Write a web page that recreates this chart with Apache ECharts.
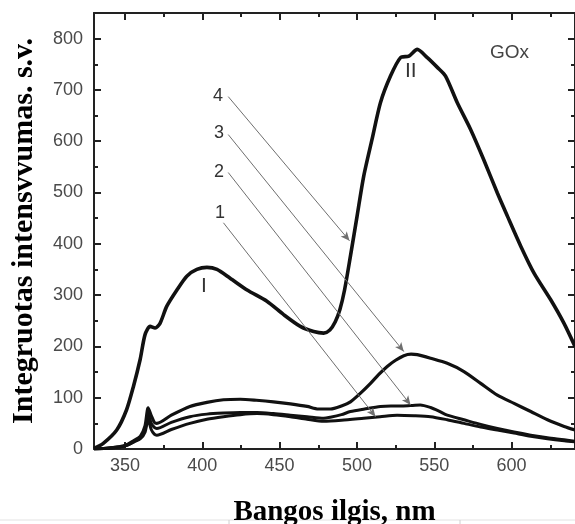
<!DOCTYPE html>
<html>
<head>
<meta charset="utf-8">
<script src="https://cdn.jsdelivr.net/npm/echarts@6/dist/echarts.min.js"></script>
<style>
html,body{margin:0;padding:0;background:#fff;}
#main{width:575px;height:524px;}
</style>
</head>
<body>
<div id="main"></div>
<script>
// ---- data (wavelength nm, intensity a.u.) ----
var curveII = [[330,1],[336,11],[344.7,37],[351,76],[355.5,122],[359.8,174],[363,223],[366.3,239],[369.5,236],[372.7,245],[377,278],[383.6,310],[390,337],[396.5,350],[403,354],[409.5,350],[418,333],[429,310],[441.8,288],[452.6,262],[463.4,239],[472,229],[478.5,226],[482.5,232],[486,248],[489,272],[492,310],[495.8,376],[500.1,454],[504.4,532],[509.8,604],[515.2,675],[521.7,727],[528.2,763],[533.6,766],[539,779],[545.5,763],[552,744],[557.3,727],[564.9,675],[573.5,623],[582,564],[590.8,499],[597.3,454],[606,395],[614.5,343],[625.3,291],[633.9,245],[641,200]];
var curve3 = [[330,0],[340,2],[350,7],[356,17],[360,25],[363,45],[365,80],[367,65],[369,52],[370.6,50],[380,66],[392,83],[403,91],[413.7,96],[424.6,97],[435,95],[446,92],[457,88],[467.8,83],[475,78],[482.8,78],[490,84],[495.8,92],[502,108],[508.8,128],[514,145],[519.6,161],[525,173],[530.3,182],[535,185],[539,184],[547.6,177],[558.4,167],[569.2,151],[580,128],[590.8,105],[601.6,89],[612.4,73],[623.2,57],[634,44],[641,37]];
var curve2 = [[330,0],[340,2],[350,6],[356,15],[360,22],[363,38],[365,68],[367,50],[369,42],[370.6,40],[380,52],[392,63],[403,68],[413.7,70],[424.6,71],[435.4,71],[446,69],[457,66],[467.8,63],[478.5,60],[482.8,62],[490,67],[495.8,73],[505,78],[515.2,83],[522,84],[530,84],[536,85],[541,86],[547.6,81],[553,74],[558.4,66],[569.2,57],[580,48],[590.8,40],[601.6,33],[612.4,27],[623.2,22],[634,18],[641,15]];
var curve1 = [[330,0],[340,2],[350,6],[356,14],[360,20],[363,33],[365,58],[367,38],[369,29],[370.6,27],[380,38],[392,50],[403,58],[413.7,63],[424.6,67],[435.4,69],[446,67],[457,63],[467.8,58],[478.5,54],[490,56],[504.4,60],[515,63],[526,66],[537,65],[547.6,63],[558.4,57],[569.2,50],[580,43],[590.8,37],[601.6,31],[612.4,25],[623.2,20],[634,16],[641,14]];

var xMajor = [350,400,450,500,550,600];
var xMinor = [375,425,475,525,575,625];
var yMajor = [0,100,200,300,400,500,600,700,800];
var yMinor = [50,150,250,350,450,550,650,750];

var arrowLabels = ['4','3','2','1'];
var arrowFrom = [[416.8,687],[416.8,613],[416.8,539],[413.7,441]];
var arrowTo   = [[495.2,406],[530.3,190],[534.7,86],[512,63]];

var xTitle = 'Bangos ilgis, nm';
var yTitle = 'Integruotas intensvvumas. s.v.';

// ---- chart ----
var chart = echarts.init(document.getElementById('main'), null, {renderer:'canvas'});
var AX = '#222';
function xAx(pos, vals, len, main) {
  return {
    type:'value', position:pos, min:330, max:641,
    axisLine:{show:main, onZero:false, lineStyle:{color:AX, width:2}},
    axisTick:{show:true, inside:true, length:len, customValues:vals, lineStyle:{color:AX, width:2}},
    axisLabel:{show:(main && pos==='bottom'), customValues:xMajor, color:'#4a4a4a', fontFamily:'Liberation Sans', fontSize:18, margin:8},
    splitLine:{show:false},
    name:(main && pos==='bottom') ? xTitle : '',
    nameLocation:'middle', nameGap:49,
    nameTextStyle:{fontFamily:'Liberation Serif', fontWeight:'bold', fontSize:29, color:'#000'}
  };
}
function yAx(pos, vals, len, main) {
  return {
    type:'value', position:pos, min:0, max:850,
    axisLine:{show:main, onZero:false, lineStyle:{color:AX, width:2}},
    axisTick:{show:true, inside:true, length:len, customValues:vals, lineStyle:{color:AX, width:2}},
    axisLabel:{show:(main && pos==='left'), customValues:yMajor, color:'#4a4a4a', fontFamily:'Liberation Sans', fontSize:18, margin:11},
    splitLine:{show:false},
    name:(main && pos==='left') ? yTitle : '',
    nameLocation:'middle', nameGap:55, nameRotate:90,
    nameTextStyle:{fontFamily:'Liberation Serif', fontWeight:'bold', fontSize:30, color:'#000'}
  };
}

function curve(data, w) {
  return {
    type:'line', data:data, showSymbol:false, smooth:0.25,
    lineStyle:{color:'#111', width:w}, silent:true, animation:false
  };
}

var markData = arrowFrom.map(function(p, i){
  return [{coord:p}, {coord:arrowTo[i]}];
});

var s1 = curve(curve1, 3);
s1.markLine = {
  silent:true, animation:false,
  symbol:['none','arrow'], symbolSize:[6,9],
  lineStyle:{color:'#6f6f6f', width:1, type:'solid'},
  label:{show:false},
  data:markData
};

var option = {
  backgroundColor:'#fff',
  animation:false,
  grid:{left:94, right:0, top:13, bottom:75, containLabel:false, outerBoundsMode:'none'},
  xAxis:[xAx('bottom', xMajor, 7, true), xAx('bottom', xMinor, 4, false), xAx('top', xMajor, 7, true), xAx('top', xMinor, 4, false)],
  yAxis:[yAx('left', yMajor, 7, true), yAx('left', yMinor, 4, false), yAx('right', yMajor, 7, true), yAx('right', yMinor, 4, false)],
  series:[s1, curve(curve2, 3), curve(curve3, 3.2), curve(curveII, 3.6)],
  graphic:[
    {type:'text', left:490, top:43, style:{text:'GOx', font:'19px "Liberation Sans"', fill:'#444'}},
    {type:'text', left:405, top:61, style:{text:'II', font:'21px "Liberation Sans"', fill:'#333'}},
    {type:'text', left:201, top:276, style:{text:'I', font:'21px "Liberation Sans"', fill:'#333'}},
    {type:'text', left:213, top:87, style:{text:arrowLabels[0], font:'18px "Liberation Sans"', fill:'#333'}},
    {type:'text', left:214, top:124, style:{text:arrowLabels[1], font:'18px "Liberation Sans"', fill:'#333'}},
    {type:'text', left:214, top:163, style:{text:arrowLabels[2], font:'18px "Liberation Sans"', fill:'#333'}},
    {type:'text', left:215, top:204, style:{text:arrowLabels[3], font:'18px "Liberation Sans"', fill:'#333'}},
    {type:'line', shape:{x1:0, y1:520, x2:575, y2:520}, style:{stroke:'#e2e2e2', lineWidth:1}},
    {type:'line', shape:{x1:229, y1:520, x2:229, y2:524}, style:{stroke:'#d0d0d0', lineWidth:1}},
    {type:'line', shape:{x1:460, y1:520, x2:460, y2:524}, style:{stroke:'#d0d0d0', lineWidth:1}}
  ]
};
chart.setOption(option);
</script>
</body>
</html>
